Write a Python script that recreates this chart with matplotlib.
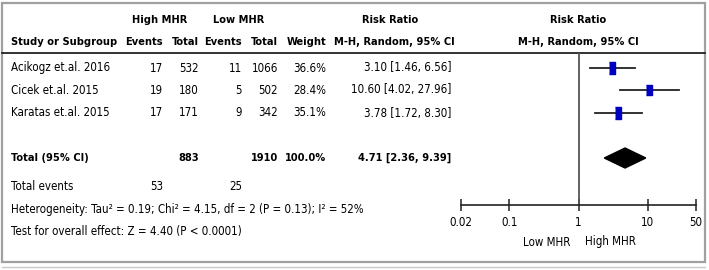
import numpy as np
import matplotlib.pyplot as plt
from matplotlib.ticker import NullLocator, FixedLocator, FixedFormatter
from matplotlib.patches import Rectangle

plt.rcParams['font.family'] = ['DejaVu Sans']
plt.rcParams['font.stretch'] = 'condensed'

# Study data
studies = ['Acikogz et.al. 2016', 'Cicek et.al. 2015', 'Karatas et.al. 2015']
high_events = [17, 19, 17]
high_total = [532, 180, 171]
low_events = [11, 5, 9]
low_total = [1066, 502, 342]
weights = [36.6, 28.4, 35.1]
rr = [3.10, 10.60, 3.78]
ci_lo = [1.46, 4.02, 1.72]
ci_hi = [6.56, 27.96, 8.30]

# Pooled result
total_high_events = 53
total_low_events = 25
total_high = 883
total_low = 1910
pooled = 4.71
pooled_lo = 2.36
pooled_hi = 9.39

heterogeneity = 'Heterogeneity: Tau² = 0.19; Chi² = 4.15, df = 2 (P = 0.13); I² = 52%'
overall_test = 'Test for overall effect: Z = 4.40 (P < 0.0001)'

axis_ticks = [0.02, 0.1, 1, 10, 50]
axis_labels = ['0.02', '0.1', '1', '10', '50']

W, H = 709, 270
fig = plt.figure(figsize=(W / 100, H / 100), dpi=100)

# background axes in pixel units for the table part
bg = fig.add_axes([0, 0, 1, 1])
bg.set_xlim(0, W)
bg.set_ylim(H, 0)
bg.axis('off')

fs = 8.3
fs_bold = 7.9
row_y = [68, 90, 113]
total_y = 158

def put(x, y, s, ha='right', bold=False):
    bg.text(x, y, s, ha=ha, va='center', fontsize=fs_bold if bold else fs,
            fontweight='bold' if bold else 'normal')

# frame
bg.add_patch(Rectangle((2, 3), 703, 259, fill=False, ec='#a0a0a0', lw=1.6))
bg.plot([2, 705], [267, 267], color='#c8c8c8', lw=1.0)
bg.plot([2, 705], [53, 53], color='#222222', lw=1.3)

# headers
put(160, 20, 'High MHR', 'center', True)
put(239, 20, 'Low MHR', 'center', True)
put(390, 20, 'Risk Ratio', 'center', True)
put(578, 20, 'Risk Ratio', 'center', True)
put(11, 42, 'Study or Subgroup', 'left', True)
put(163, 42, 'Events', bold=True)
put(199, 42, 'Total', bold=True)
put(242, 42, 'Events', bold=True)
put(278, 42, 'Total', bold=True)
put(326, 42, 'Weight', bold=True)
put(394, 42, 'M-H, Random, 95% CI', 'center', True)
put(578, 42, 'M-H, Random, 95% CI', 'center', True)

# study rows
for i, y in enumerate(row_y):
    put(11, y, studies[i], 'left')
    put(163, y, str(high_events[i]))
    put(199, y, str(high_total[i]))
    put(242, y, str(low_events[i]))
    put(278, y, str(low_total[i]))
    put(326, y, f'{weights[i]:.1f}%')
    put(451, y, f'{rr[i]:.2f} [{ci_lo[i]:.2f}, {ci_hi[i]:.2f}]')

# total rows
put(11, total_y, 'Total (95% CI)', 'left', True)
put(199, total_y, str(total_high), bold=True)
put(278, total_y, str(total_low), bold=True)
put(326, total_y, '100.0%', bold=True)
put(451, total_y, f'{pooled:.2f} [{pooled_lo:.2f}, {pooled_hi:.2f}]', bold=True)
put(11, 186, 'Total events', 'left')
put(163, 186, str(total_high_events))
put(242, 186, str(total_low_events))
put(11, 209, heterogeneity, 'left')
put(11, 231, overall_test, 'left')

put(570, 242, 'Low MHR')
put(585, 242, 'High MHR', 'left')

# forest plot axes
x0, x1 = 461, 696
y_top, y_bot = 53, 205
fa = fig.add_axes([x0 / W, 1 - y_bot / H, (x1 - x0) / W, (y_bot - y_top) / H])
fa.set_xscale('log')
fa.set_xlim(0.02, 50)
fa.set_ylim(y_bot, y_top)
fa.patch.set_alpha(0)
for s in ['top', 'left', 'right']:
    fa.spines[s].set_visible(False)
fa.spines['bottom'].set_linewidth(1.2)
fa.spines['bottom'].set_color('#222222')
fa.set_yticks([])
fa.xaxis.set_major_locator(FixedLocator(axis_ticks))
fa.xaxis.set_major_formatter(FixedFormatter(axis_labels))
fa.xaxis.set_minor_locator(NullLocator())
fa.tick_params(axis='x', direction='inout', length=8, width=1.1,
               color='#222222', labelsize=fs, pad=4)

fa.axvline(1, color='#555555', lw=1.3)

box = [(-0.27, -0.5), (0.27, -0.5), (0.27, 0.5), (-0.27, 0.5)]
for i, y in enumerate(row_y):
    fa.plot([ci_lo[i], ci_hi[i]], [y, y], color='#222222', lw=1.3)
    ms = 8.3 * np.sqrt(weights[i] / 36.6)
    fa.plot(rr[i], y, marker=box, markersize=ms, color='#0000c0', mec='#0000c0')

fa.fill([pooled_lo, pooled, pooled_hi, pooled],
        [total_y, total_y - 10, total_y, total_y + 10], color='black')

fig.savefig('out.png', dpi=100)
